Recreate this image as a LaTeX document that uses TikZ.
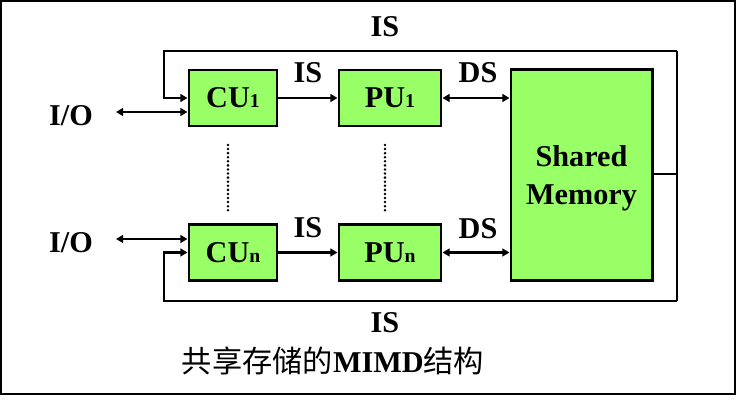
\documentclass[tikz,border=0pt]{standalone}
\usepackage{fontspec}
\setmainfont{Liberation Serif}
\newfontfamily\cjk{Noto Sans CJK SC}
\usetikzlibrary{arrows.meta}
\definecolor{unitgreen}{RGB}{153,255,102}
\newcommand\idx[1]{{\fontsize{14pt}{14pt}\selectfont #1}}
\tikzset{
  unit/.style={draw, line width=2.1pt, fill=unitgreen, inner sep=0pt,
    font=\fontsize{21.5pt}{27pt}\selectfont\bfseries},
  lbl/.style={anchor=base, inner sep=0pt, font=\fontsize{21.5pt}{24pt}\selectfont\bfseries},
  link/.style={line width=1.5pt, -{Triangle[length=5pt, width=5.5pt]}},
  dlink/.style={line width=1.5pt, {Triangle[length=5pt, width=5.5pt]}-{Triangle[length=5pt, width=5.5pt]}},
  bus/.style={line width=2.1pt},
  dots/.style={line width=2pt, line cap=round, dash pattern=on 0pt off 2.9pt}
}
\begin{document}
\begin{tikzpicture}[x=0.025cm, y=-0.025cm]
  \useasboundingbox (0,0) rectangle (750,405);
  \draw[line width=1pt] (1,1) rectangle (735,394);
  \node[unit, minimum width=2.2cm, minimum height=1.4cm] (cu1) at(233,98){CU\idx{1}};
  \node[unit, minimum width=2.55cm, minimum height=1.4cm] (pu1) at(390,98){PU\idx{1}};
  \node[unit, minimum width=2.2cm, minimum height=1.4cm] (cun) at(233,252.5){CU\idx{n}};
  \node[unit, minimum width=2.55cm, minimum height=1.4cm] (pun) at(390,252.5){PU\idx{n}};
  \node[unit, minimum width=3.525cm, minimum height=5.25cm, align=center, text depth=0pt] (mem) at(581.5,175){Shared\\Memory};
  \node[lbl] (io1) at(71,126){I/O};
  \node[lbl] (ion) at(71,253){I/O};
  \node[lbl] (is1) at(308,83){IS};
  \node[lbl] (isn) at(308,238){IS};
  \node[lbl] (ds1) at(478,83){DS};
  \node[lbl] (dsn) at(478,239){DS};
  \node[lbl] (istop) at(385,37){IS};
  \node[lbl] (isbot) at(385,333){IS};
  \node[lbl] (caption) at(333,373){{\cjk\mdseries 共享存储的}MIMD{\cjk\mdseries 结构}};
  \coordinate (bustop) at(677,51);
  \coordinate (busbot) at(677,301);
  \coordinate (loop1) at(164,98);
  \coordinate (loopn) at(164,252.5);
  \coordinate (io1end) at(116,112);
  \coordinate (ionend) at(116,239);
  \draw[bus] (mem.east |- 0,174) -- (bustop |- 0,174);
  \draw[bus] (bustop) -- (busbot);
  \draw[link, line width=2.1pt] (bustop) -| (loop1) -- (cu1.west);
  \draw[link, line width=2.1pt] (busbot) -| (loopn) -- (cun.west);
  \draw[dlink] (io1end) -- (cu1.west |- io1end);
  \draw[dlink] (ionend) -- (cun.west |- ionend);
  \draw[link] (cu1) -- (pu1);
  \draw[link] (cun) -- (pun);
  \draw[dlink] (pu1.east) -- (mem.west |- pu1.east);
  \draw[dlink] (pun.east) -- (mem.west |- pun.east);
  \draw[dots] (228,145) -- (228,214);
  \draw[dots] (385,145) -- (385,214);
\end{tikzpicture}
\end{document}
